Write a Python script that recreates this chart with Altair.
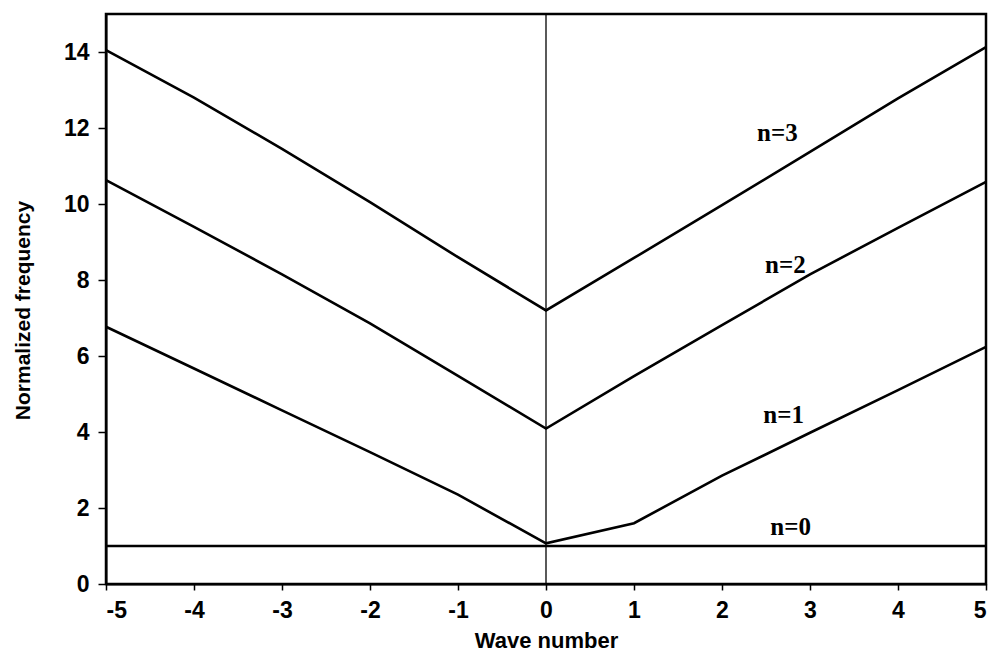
import altair as alt
import pandas as pd

wave = [-5, -4, -3, -2, -1, 0, 1, 2, 3, 4, 5]
n0 = [1.0, 1.0, 1.0, 1.0, 1.0, 1.0, 1.0, 1.0, 1.0, 1.0, 1.0]
n1 = [6.77, 5.67, 4.57, 3.47, 2.35, 1.07, 1.6, 2.85, 3.98, 5.1, 6.24]
n2 = [10.63, 9.40, 8.15, 6.86, 5.48, 4.09, 5.47, 6.81, 8.15, 9.37, 10.58]
n3 = [14.05, 12.8, 11.45, 10.05, 8.6, 7.2, 8.58, 9.97, 11.37, 12.78, 14.13]

label_text = ["n=3", "n=2", "n=1", "n=0"]
label_x = [2.63, 2.72, 2.70, 2.78]
label_y = [11.66, 8.19, 4.24, 1.28]

rows = []
for name, vals in [("n=0", n0), ("n=1", n1), ("n=2", n2), ("n=3", n3)]:
    for k, f in zip(wave, vals):
        rows.append({"mode": name, "k": k, "f": f})
df = pd.DataFrame(rows)
labels = pd.DataFrame({"t": label_text, "x": label_x, "y": label_y})
vline = pd.DataFrame({"x": [0], "y0": [0], "y1": [15]})

xs = alt.Scale(domain=[-5, 5], nice=False, zero=False)
ys = alt.Scale(domain=[0, 15], nice=False)

x_axis = alt.Axis(values=wave, title="Wave number", labelExpr="'' + datum.value",
                  labelFontSize=23, titleFontSize=22, titlePadding=8,
                  labelPadding=9, tickSize=6)
y_axis = alt.Axis(values=[0, 2, 4, 6, 8, 10, 12, 14], title="Normalized frequency",
                  labelFontSize=23, titleFontSize=21, labelPadding=9, tickSize=8,
                  titleX=-73, titleY=296)

lines = alt.Chart(df).mark_line(color="black", strokeWidth=2.6).encode(
    x=alt.X("k:Q", scale=xs, axis=x_axis),
    y=alt.Y("f:Q", scale=ys, axis=y_axis),
    detail="mode:N",
)

rule = alt.Chart(vline).mark_rule(color="black", strokeWidth=1.3).encode(
    x=alt.X("x:Q", scale=xs), y=alt.Y("y0:Q", scale=ys), y2="y1:Q"
)

text = alt.Chart(labels).mark_text(
    font="Liberation Serif", fontSize=25, fontWeight="bold", align="center",
    baseline="alphabetic", color="black"
).encode(x=alt.X("x:Q", scale=xs), y=alt.Y("y:Q", scale=ys), text="t:N")

chart = alt.layer(rule, lines, text).properties(
    width=880, height=570,
    autosize=alt.AutoSizeParams(type="none"),
    padding={"left": 106, "top": 14, "right": 16, "bottom": 82},
).configure_view(
    stroke="black", strokeWidth=2.5
).configure_axis(
    grid=False, domainColor="black", domainWidth=2, tickColor="black", tickWidth=1.5,
    labelColor="black", titleColor="black",
    labelFont="Liberation Sans", titleFont="Liberation Sans",
    labelFontWeight="bold", titleFontWeight="bold",
)

chart.save("out.html", embed_options={"renderer": "svg", "actions": False})
